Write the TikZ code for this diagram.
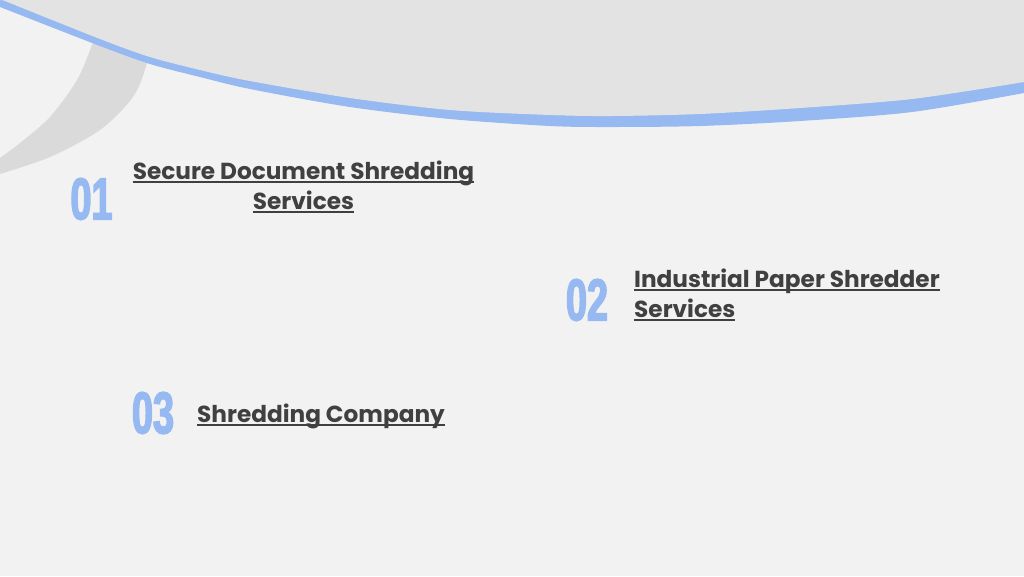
\documentclass[tikz,border=0pt]{standalone}
\usepackage{fontspec}
\usepackage{graphicx}
\setmainfont{Poppins}
\newfontfamily\numfont{Liberation Sans}[FakeStretch=0.64, FakeBold=2.5]
\definecolor{bggray}{HTML}{F2F2F2}
\definecolor{topgray}{HTML}{E4E3E4}
\definecolor{bandgray}{HTML}{DADADA}
\definecolor{arcblue}{HTML}{95B9F0}
\definecolor{txtgray}{HTML}{404040}
\newsavebox\ulbox
\newcommand\ulined[1]{\sbox\ulbox{#1}\rlap{\color{txtgray}\rule[-3.5pt]{\wd\ulbox}{1.4pt}}\usebox\ulbox}

\begin{document}
\begin{tikzpicture}[x=1pt, y=-1pt,
    itemtext/.style={text=txtgray, font=\bfseries\fontsize{23.2}{30}\selectfont, inner sep=0pt},
    itemnum/.style={text=arcblue, font=\numfont\bfseries\fontsize{59}{59}\selectfont, inner sep=0pt}]
  \useasboundingbox (0,0) rectangle (1024,576);
  \fill[bggray] (0,0) rectangle (1024,576);
  % grey band on the left
  \fill[bandgray] plot[smooth] coordinates {(104,10) (92,45) (77,80) (50,117) (20,143) (0,158)}
    -- plot[smooth] coordinates {(0,174) (50,157) (100,130) (133,97) (147,63) (156,20)} -- cycle;
  % blue rim and grey cap
  \fill[arcblue] (0,0) -- plot[smooth] coordinates {(0,7) (100,46) (150,64) (200,77) (250,89) (350,107)
    (450,119) (550,126) (612,127) (700,126) (800,121) (912,112) (1024,93)} -- (1024,0) -- cycle;
  \fill[topgray] (0,0) -- plot[smooth] coordinates {(0,-1) (100,39) (150,57) (200,70) (250,81) (350,98)
    (450,110) (550,115) (612,116) (700,114) (800,108) (912,99) (1024,82)} -- (1024,0) -- cycle;
  % items
  \node[itemnum] (n1) at (91.5,199) {01};
  \node[itemtext, align=center, anchor=base] (t1) at (303.5,209)
    {\ulined{Secure Document Shredding}\\ \ulined{Services}};
  \node[itemnum] (n2) at (587,300) {02};
  \node[itemtext, align=left, anchor=base west] (t2) at (634,317)
    {\ulined{Industrial Paper Shredder}\\ \ulined{Services}};
  \node[itemnum] (n3) at (153,413) {03};
  \node[itemtext, anchor=base west] (t3) at (197,422) {\ulined{Shredding Company}};
\end{tikzpicture}
\end{document}
